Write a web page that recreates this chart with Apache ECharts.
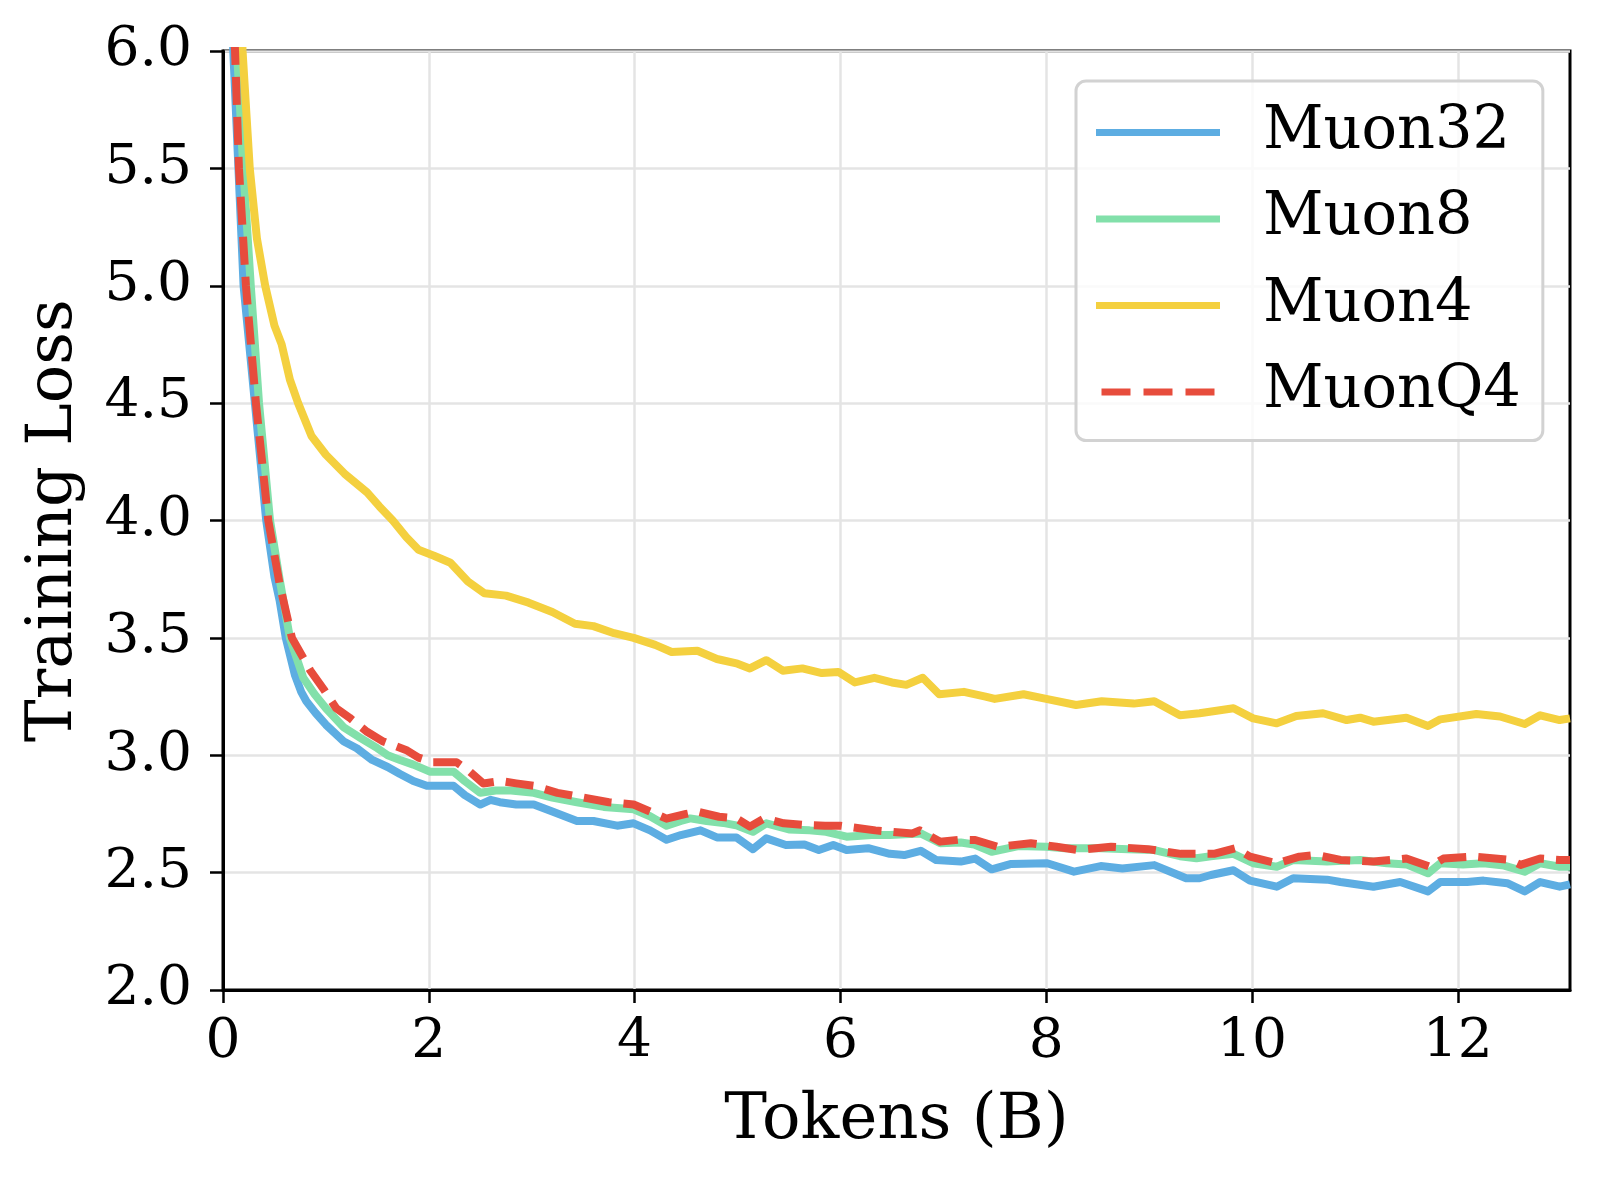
<!DOCTYPE html>
<html>
<head>
<meta charset="utf-8">
<script src="https://cdn.jsdelivr.net/npm/echarts@6/dist/echarts.min.js"></script>
<style>
  html, body { margin: 0; padding: 0; background: #fff; }
  #chart { width: 1600px; height: 1178px; }
</style>
</head>
<body>
<div id="chart"></div>
<script>
// tokens (B) vs training loss
const xTicks = [0, 2, 4, 6, 8, 10, 12];

const muon32 = [
  [0.07, 6.4], [0.10, 6.0], [0.15, 5.5], [0.20, 5.0], [0.31, 4.5], [0.42, 4.0], [0.50, 3.76],
  [0.55, 3.66], [0.61, 3.5], [0.70, 3.34], [0.76, 3.27], [0.81, 3.23], [0.90, 3.18], [1.00, 3.13],
  [1.17, 3.06], [1.30, 3.03], [1.45, 2.98], [1.60, 2.95], [1.72, 2.92], [1.85, 2.89], [1.98, 2.87],
  [2.10, 2.87], [2.24, 2.87], [2.35, 2.83], [2.50, 2.79], [2.60, 2.81], [2.69, 2.80], [2.85, 2.79],
  [3.02, 2.79], [3.20, 2.76], [3.44, 2.72], [3.60, 2.72], [3.83, 2.70], [3.99, 2.71], [4.15, 2.68],
  [4.31, 2.64], [4.45, 2.66], [4.64, 2.68], [4.80, 2.65], [4.99, 2.65], [5.15, 2.60], [5.28, 2.646],
  [5.47, 2.618], [5.65, 2.62], [5.79, 2.596], [5.93, 2.618], [6.06, 2.596], [6.27, 2.604], [6.48, 2.58],
  [6.62, 2.575], [6.78, 2.593], [6.93, 2.554], [7.17, 2.547], [7.31, 2.56], [7.47, 2.514], [7.66, 2.537],
  [8.01, 2.54], [8.27, 2.504], [8.53, 2.528], [8.74, 2.518], [9.05, 2.532], [9.36, 2.476], [9.49, 2.476],
  [9.60, 2.49], [9.82, 2.51], [9.98, 2.466], [10.24, 2.44], [10.40, 2.476], [10.73, 2.47], [10.86, 2.46],
  [11.18, 2.44], [11.44, 2.46], [11.71, 2.42], [11.83, 2.46], [12.09, 2.46], [12.25, 2.466], [12.48, 2.455],
  [12.65, 2.42], [12.80, 2.46], [12.99, 2.44], [13.09, 2.45]
];

const muon8 = [
  [0.08, 6.4], [0.136, 6.0], [0.197, 5.5], [0.27, 5.0], [0.35, 4.5], [0.457, 4.0], [0.55, 3.75],
  [0.65, 3.5], [0.78, 3.33], [0.89, 3.26], [1.00, 3.20], [1.17, 3.12], [1.35, 3.07], [1.50, 3.03],
  [1.60, 3.00], [1.72, 2.98], [1.85, 2.96], [2.01, 2.93], [2.24, 2.93], [2.35, 2.89], [2.50, 2.84],
  [2.65, 2.85], [2.80, 2.85], [3.02, 2.84], [3.20, 2.82], [3.44, 2.80], [3.70, 2.78], [3.99, 2.77],
  [4.15, 2.74], [4.31, 2.70], [4.45, 2.72], [4.54, 2.731], [4.70, 2.72], [4.885, 2.71], [5.00, 2.70],
  [5.15, 2.674], [5.28, 2.71], [5.50, 2.684], [5.70, 2.68], [5.86, 2.674], [6.06, 2.653], [6.30, 2.66],
  [6.48, 2.66], [6.78, 2.667], [6.97, 2.625], [7.17, 2.628], [7.30, 2.62], [7.47, 2.589], [7.73, 2.613],
  [8.00, 2.61], [8.18, 2.604], [8.53, 2.604], [8.80, 2.60], [9.05, 2.596], [9.30, 2.57], [9.46, 2.561],
  [9.60, 2.57], [9.82, 2.58], [10.01, 2.54], [10.24, 2.525], [10.40, 2.554], [10.73, 2.547], [11.05, 2.554],
  [11.31, 2.54], [11.50, 2.535], [11.71, 2.497], [11.83, 2.54], [12.05, 2.535], [12.25, 2.54], [12.45, 2.53],
  [12.65, 2.504], [12.80, 2.54], [12.99, 2.525], [13.09, 2.525]
];

const muon4 = [
  [0.15, 6.5], [0.19, 6.0], [0.26, 5.5], [0.33, 5.2], [0.41, 5.0], [0.50, 4.83], [0.57, 4.75],
  [0.65, 4.6], [0.73, 4.5], [0.86, 4.36], [1.00, 4.28], [1.18, 4.20], [1.40, 4.12], [1.52, 4.06],
  [1.65, 4.00], [1.78, 3.93], [1.90, 3.875], [2.05, 3.85], [2.21, 3.82], [2.38, 3.74], [2.54, 3.69],
  [2.75, 3.68], [2.97, 3.65], [3.20, 3.61], [3.42, 3.56], [3.60, 3.55], [3.80, 3.52], [3.99, 3.50],
  [4.20, 3.47], [4.36, 3.44], [4.61, 3.445], [4.80, 3.41], [5.00, 3.39], [5.12, 3.37], [5.28, 3.405],
  [5.44, 3.36], [5.63, 3.37], [5.82, 3.35], [5.98, 3.355], [6.14, 3.31], [6.33, 3.33], [6.50, 3.31],
  [6.64, 3.30], [6.80, 3.33], [6.96, 3.26], [7.20, 3.27], [7.41, 3.25], [7.50, 3.24], [7.78, 3.26],
  [8.00, 3.24], [8.29, 3.214], [8.54, 3.23], [8.85, 3.22], [9.05, 3.23], [9.30, 3.17], [9.49, 3.179],
  [9.82, 3.20], [10.01, 3.157], [10.24, 3.136], [10.43, 3.167], [10.69, 3.179], [10.92, 3.15], [11.05, 3.16],
  [11.18, 3.143], [11.50, 3.16], [11.71, 3.125], [11.83, 3.153], [12.18, 3.176], [12.41, 3.165], [12.65, 3.133],
  [12.80, 3.17], [12.99, 3.15], [13.09, 3.157]
];

const muonQ4 = [
  [0.07, 6.4], [0.117, 6.0], [0.155, 5.5], [0.223, 5.0], [0.32, 4.5], [0.44, 4.0], [0.55, 3.73],
  [0.67, 3.5], [0.85, 3.36], [0.98, 3.28], [1.10, 3.20], [1.23, 3.16], [1.40, 3.10], [1.55, 3.06],
  [1.79, 3.02], [1.90, 2.99], [2.04, 2.97], [2.27, 2.97], [2.40, 2.93], [2.53, 2.88], [2.70, 2.89],
  [2.85, 2.88], [3.02, 2.87], [3.25, 2.84], [3.50, 2.82], [3.75, 2.80], [3.99, 2.79], [4.15, 2.76],
  [4.31, 2.73], [4.50, 2.75], [4.61, 2.76], [4.82, 2.738], [4.99, 2.731], [5.12, 2.696], [5.26, 2.731],
  [5.45, 2.71], [5.65, 2.703], [5.85, 2.70], [6.00, 2.70], [6.34, 2.68], [6.55, 2.672], [6.70, 2.667],
  [6.77, 2.68], [6.97, 2.632], [7.15, 2.64], [7.31, 2.639], [7.53, 2.61], [7.85, 2.625], [8.10, 2.61],
  [8.31, 2.596], [8.63, 2.61], [8.99, 2.60], [9.31, 2.58], [9.49, 2.58], [9.63, 2.58], [9.84, 2.604],
  [9.98, 2.568], [10.24, 2.54], [10.46, 2.568], [10.63, 2.575], [10.86, 2.554], [11.18, 2.547], [11.50, 2.56],
  [11.73, 2.525], [11.86, 2.56], [12.15, 2.568], [12.51, 2.554], [12.61, 2.533], [12.80, 2.56], [12.99, 2.554],
  [13.09, 2.554]
];

const FONT = '"DejaVu Serif", serif';
// legend swatches: plain bar for solid lines, three bars for the dashed one
const DASH_ICON = 'path://M0,0H29V7H0Z M42,0H71V7H42Z M84,0H113V7H84Z';

const chart = echarts.init(document.getElementById('chart'), null, { renderer: 'canvas' });

const lineSeries = (name, data, color, type) => ({
  name: name,
  type: 'line',
  data: data,
  showSymbol: false,
  symbol: 'none',
  clip: true,
  lineStyle: { color: color, width: 8, type: type || 'solid', cap: 'butt', join: 'round' },
  itemStyle: { color: color },
  emphasis: { disabled: true }
});

chart.setOption({
  animation: false,
  backgroundColor: '#fff',
  grid: {
    left: 223, right: 30, top: 51, bottom: 188,
    show: true, borderColor: '#000', borderWidth: 3, backgroundColor: 'transparent'
  },
  legend: {
    left: 1076, top: 81,
    orient: 'vertical',
    padding: [22, 22, 19, 20],
    itemWidth: 124, itemHeight: 7, itemGap: 27.5,
    backgroundColor: 'rgba(255,255,255,0.8)',
    borderColor: '#d2d2d2', borderWidth: 3, borderRadius: 10,
    textStyle: { fontFamily: FONT, fontSize: 59, color: '#000', padding: [0, 0, 0, 38] },
    data: [
      { name: 'Muon32', icon: 'rect' },
      { name: 'Muon8', icon: 'rect' },
      { name: 'Muon4', icon: 'rect' },
      { name: 'MuonQ4', icon: DASH_ICON }
    ]
  },
  xAxis: {
    type: 'value', min: 0, max: 13.09, interval: 2,
    name: 'Tokens (B)', nameLocation: 'middle', nameGap: 99,
    nameTextStyle: { fontFamily: FONT, fontSize: 64, color: '#000' },
    axisLine: { lineStyle: { color: '#000', width: 3 } },
    axisTick: { show: true, length: 13, lineStyle: { color: '#000', width: 2.5 }, customValues: xTicks },
    axisLabel: { fontFamily: FONT, fontSize: 55, color: '#000', margin: 25, customValues: xTicks },
    splitLine: { show: true, lineStyle: { color: '#e4e4e4', width: 2.5 } }
  },
  yAxis: {
    type: 'value', min: 2, max: 6, interval: 0.5,
    name: 'Training Loss', nameLocation: 'middle', nameGap: 137,
    nameTextStyle: { fontFamily: FONT, fontSize: 64, color: '#000' },
    axisLine: { show: true, lineStyle: { color: '#000', width: 3 } },
    axisTick: { show: true, length: 13, lineStyle: { color: '#000', width: 2.5 } },
    axisLabel: { fontFamily: FONT, fontSize: 55, color: '#000', margin: 31, formatter: v => v.toFixed(1) },
    splitLine: { show: true, lineStyle: { color: '#e4e4e4', width: 2.5 } }
  },
  series: [
    lineSeries('Muon32', muon32, '#5DADE2'),
    lineSeries('Muon8', muon8, '#82E0AA'),
    lineSeries('Muon4', muon4, '#F4D03F'),
    lineSeries('MuonQ4', muonQ4, '#E74C3C', [28, 12])
  ]
});
</script>
</body>
</html>
